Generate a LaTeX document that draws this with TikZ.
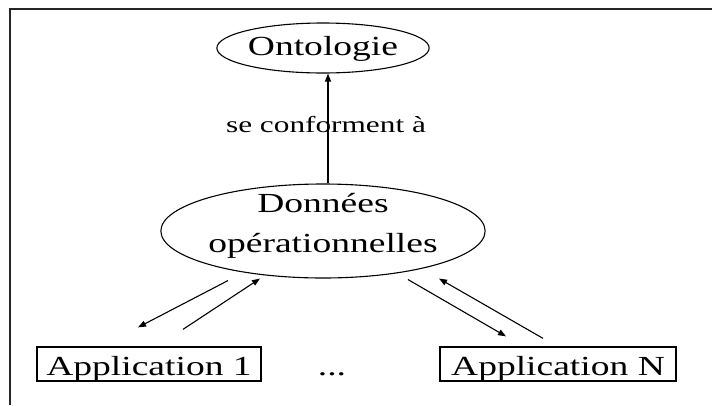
\documentclass[tikz,border=0pt]{standalone}
\usepackage{fontspec}
\setmainfont{Liberation Serif}
\usetikzlibrary{arrows.meta,calc,shapes.geometric}
% horizontally widened text
\newcommand\widetext[1]{\scalebox{1.36}[1]{#1}}
\begin{document}
\begin{tikzpicture}[x=1pt,y=-1pt,
  bigfont/.style={font=\fontsize{27.6}{40}\selectfont},
  oval/.style={draw, ellipse, line width=1.1pt, inner sep=0pt, bigfont},
  appbox/.style={draw, rectangle, line width=1.3pt, inner sep=0pt,
    minimum height=34pt, text height=22pt, text depth=0pt, bigfont},
  link/.style={line width=1.1pt, -{Triangle[length=8pt,width=6pt]}},
  framerule/.style={line width=2pt, draw=black!85}]
\useasboundingbox (0,0) rectangle (712,405);

% frame edges
\draw[framerule] (10,405) -- (10,9.3) -- (712,9.3);

% nodes
\node[oval, minimum width=212pt, minimum height=50pt,
      text height=15pt, text depth=0pt] (onto) at (323,48) {\widetext{Ontologie}};
\node[oval, minimum width=324pt, minimum height=94pt,
      text height=42pt, text depth=0pt] (donnees) at (323,231)
  {\widetext{\begin{tabular}[b]{@{}c@{}}Données\\opérationnelles\end{tabular}}};
\node[appbox, minimum width=224pt] (app1) at (149,364) {\widetext{Application 1}};
\node[appbox, minimum width=236pt] (appn) at (558,364) {\widetext{Application N}};
\node[bigfont, anchor=base, inner sep=0pt] (dots) at (332,375) {\widetext{...}};

% label under the vertical link
\node[font=\fontsize{23}{28}\selectfont, anchor=base, inner sep=0pt] (conf) at (326,132.3)
  {\widetext{se conforment à}};

% links
\draw[link] ([xshift=5pt]donnees.north) -- ([xshift=5pt]onto.south);

\draw[link] ($(donnees.south)+(-95,2)$) -- ($(app1.north)+(-11,-19)$);
\draw[link] ($(app1.north)+(34,-17)$) -- ($(donnees.south)+(-63,0)$);
\draw[link] ($(donnees.south)+(85,1)$) -- ($(appn.north)+(-52,-10)$);
\draw[link] ($(appn.north)+(-15,-8)$) -- ($(donnees.south)+(116,0)$);
\end{tikzpicture}
\end{document}
